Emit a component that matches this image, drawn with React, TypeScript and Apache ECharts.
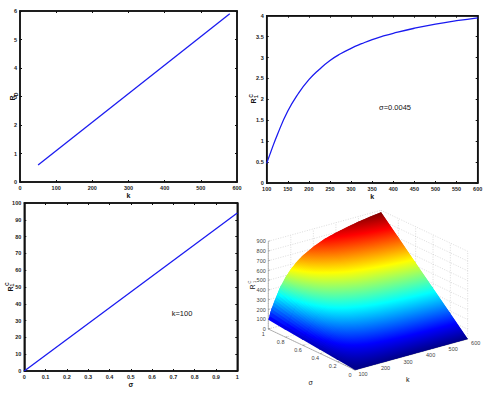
import React, { useEffect, useRef } from "react";
import * as echarts from "echarts";

// Panel 1
const p1K = [50, 580];
const p1R = [0.6, 5.9];
// Panel 2
const p2K = [100, 110, 125, 150, 175, 200, 225, 250, 275, 300, 325, 350, 375, 400, 450, 500, 550, 600];
const p2R = [0.47, 0.75, 1.15, 1.72, 2.14, 2.47, 2.72, 2.93, 3.09, 3.22, 3.33, 3.43, 3.51, 3.58, 3.7, 3.8, 3.88, 3.95];
// Panel 3
const p3S = [0, 1];
const p3R = [0, 94];
// Panel 4 surface
const surfK = [100, 110, 125, 150, 175, 200, 225, 250, 300, 350, 400, 450, 500, 550, 600];
const surfS = [0, 0.2, 0.4, 0.6, 0.8, 1];
const surfZ = [
  [0, 0, 0, 0, 0, 0, 0, 0, 0, 0, 0, 0, 0, 0, 0],
  [19, 33, 51, 77, 95, 110, 121, 130, 143, 153, 160, 165, 169, 173, 176],
  [38, 67, 102, 153, 191, 220, 242, 261, 287, 306, 319, 330, 339, 346, 352],
  [56, 100, 154, 230, 286, 330, 364, 391, 430, 460, 479, 494, 508, 519, 528],
  [75, 134, 205, 306, 382, 440, 485, 522, 574, 613, 638, 659, 678, 692, 704],
  [94, 167, 256, 383, 477, 550, 606, 652, 717, 766, 798, 824, 847, 865, 880],
];
const tickK = [100, 200, 300, 400, 500, 600];
const tickS = [0, 0.2, 0.4, 0.6, 0.8, 1];
const tickZ = [0, 100, 200, 300, 400, 500, 600, 700, 800, 900];

const FONT = "Liberation Sans";
const Z_TOP = 880;
const project = (k: number, s: number, z: number): [number, number] => {
  const t = (k - 100) / 500;
  return [355 + 112.7 * t - 86.7 * s, 370 - 31 * t - 41 * s - (z * 87.7) / 900];
};
const jetStops: [number, number[]][] = [
  [0, [0, 0, 135]],
  [0.125, [0, 0, 255]],
  [0.375, [0, 255, 255]],
  [0.625, [255, 255, 0]],
  [0.875, [255, 0, 0]],
  [1, [128, 0, 0]],
];
const jet = (z: number) => {
  const v = Math.max(0, Math.min(1, z / Z_TOP));
  for (let i = 1; i < jetStops.length; i++) {
    const [a, ca] = jetStops[i - 1];
    const [b, cb] = jetStops[i];
    if (v <= b) {
      const f = (v - a) / (b - a);
      return `rgb(${ca.map((c, n) => Math.round(c + (cb[n] - c) * f)).join(",")})`;
    }
  }
  return "rgb(128,0,0)";
};

const frameAxes = (gridIndex: number, kind: "x" | "y", min: number, max: number, interval: number, name = "") => [
  {
    type: "value", gridIndex, min, max, interval, position: kind === "x" ? "bottom" : "left",
    name, nameLocation: "middle", nameGap: 8,
    nameTextStyle: { fontSize: 7, fontWeight: "bold", color: "#111", fontFamily: FONT },
    splitLine: { show: false },
    axisLine: { onZero: false, lineStyle: { color: "#111", width: 1.5 } },
    axisTick: { inside: true, length: 2, lineStyle: { color: "#111", width: 1 } },
    axisLabel: { fontSize: 5.5, fontWeight: "bold", color: "#222", fontFamily: FONT, margin: 3 },
  },
  {
    type: "value", gridIndex, min, max, interval, position: kind === "x" ? "top" : "right",
    splitLine: { show: false },
    axisLine: { onZero: false, lineStyle: { color: "#111", width: 1.5 } },
    axisTick: { inside: true, length: 2, lineStyle: { color: "#111", width: 1 } },
    axisLabel: { show: false },
  },
];

const lineSeries = (xAxisIndex: number, yAxisIndex: number, xs: number[], ys: number[], smooth = false) => ({
  type: "line", xAxisIndex, yAxisIndex, showSymbol: false, symbol: "none", smooth,
  lineStyle: { color: "#1a1af0", width: 1.3 },
  data: xs.map((x, i) => [x, ys[i]]),
  silent: true,
});

const label = (text: string, x: number, y: number, size: number, rotate = false, weight = "normal") => ({
  type: "text", x, y, rotation: rotate ? Math.PI / 2 : 0,
  style: { text, fontSize: size, fontWeight: weight, fill: "#111", fontFamily: FONT, textAlign: "center", textVerticalAlign: "middle" },
});

const buildOption = () => {
  const wallSegs: number[][] = [];
  tickZ.forEach((z) => {
    wallSegs.push([100, 1, z, 600, 1, z]);
    wallSegs.push([600, 1, z, 600, 0, z]);
  });
  tickK.forEach((k) => {
    wallSegs.push([k, 1, 0, k, 1, 900]);
    wallSegs.push([k, 0, 0, k, 1, 0]);
  });
  tickS.forEach((s) => {
    wallSegs.push([600, s, 0, 600, s, 900]);
    wallSegs.push([100, s, 0, 600, s, 0]);
  });
  const axisSegs = [
    [100, 1, 0, 100, 1, 900],
    [100, 1, 0, 100, 0, 0],
    [100, 0, 0, 600, 0, 0],
    ...tickZ.map((z) => [100, 1, z, 108, 1, z]),
    ...tickS.map((s) => [100, s, 0, 108, s, 0]),
    ...tickK.map((k) => [k, 0, 0, k, 0.03, 0]),
  ];
  const cells: number[][] = [];
  for (let j = 0; j < surfS.length - 1; j++) for (let i = 0; i < surfK.length - 1; i++) cells.push([i, j]);

  const segRender = (color: string, dash: number[] | null, width: number) => (_: any, api: any) => {
    const a = api.coord(project(api.value(0), api.value(1), api.value(2)));
    const b = api.coord(project(api.value(3), api.value(4), api.value(5)));
    return {
      type: "line",
      shape: { x1: a[0], y1: a[1], x2: b[0], y2: b[1] },
      style: { stroke: color, lineWidth: width, lineDash: dash, fill: null },
    };
  };
  const cellRender = (_: any, api: any) => {
    const i = api.value(0), j = api.value(1);
    const kSpan = surfK[i + 1] - surfK[i];
    const NK = Math.max(1, Math.ceil(kSpan / 6));
    const children: any[] = [];
    const zAt = (u: number, v: number) => {
      const a = surfZ[j][i] + (surfZ[j][i + 1] - surfZ[j][i]) * u;
      const b = surfZ[j + 1][i] + (surfZ[j + 1][i + 1] - surfZ[j + 1][i]) * u;
      return a + (b - a) * v;
    };
    const pt = (u: number, v: number) =>
      api.coord(project(surfK[i] + kSpan * u, surfS[j] + (surfS[j + 1] - surfS[j]) * v, zAt(u, v)));
    const lastI = i === surfK.length - 2;
    const lastJ = j === surfS.length - 2;
    for (let a = 0; a < NK; a++) {
      const u0 = a / NK;
      let u1 = (a + 1) / NK;
      if (!(lastI && a === NK - 1)) u1 += 6 / kSpan; // overlap hides seams
      const v1 = lastJ ? 1 : 1.06;
      const um = (a + 0.5) / NK;
      const z0 = zAt(um, 0), z1 = zAt(um, 1);
      const p0 = pt(um, 0), p1 = pt(um, 1);
      const stops: { offset: number; color: string }[] = [{ offset: 0, color: jet(z0) }];
      jetStops.forEach(([f]) => {
        const z = f * Z_TOP;
        if (z > z0 && z < z1) stops.push({ offset: (z - z0) / (z1 - z0), color: jet(z) });
      });
      stops.push({ offset: 1, color: jet(z1) });
      children.push({
        type: "polygon",
        shape: { points: [pt(u0, 0), pt(u1, 0), pt(u1, v1), pt(u0, v1)] },
        style: { fill: new echarts.graphic.LinearGradient(p0[0], p0[1], p1[0], p1[1], stops, true), stroke: null },
      });
    }
    return { type: "group", children };
  };
  const textRender = (offX: number, offY: number, align: string, pick: (v: number) => [number, number, number]) => (_: any, api: any) => {
    const v = api.value(0);
    const [k, s, z] = pick(v);
    const p = api.coord(project(k, s, z));
    return {
      type: "text",
      x: p[0] + offX, y: p[1] + offY,
      style: { text: String(v), fontSize: 5.5, fill: "#444", fontFamily: FONT, textAlign: align, textVerticalAlign: "middle" },
    };
  };
  const customBase = { type: "custom", xAxisIndex: 6, yAxisIndex: 6, silent: true, clip: false };
  const border = { show: true, backgroundColor: "transparent", borderColor: "#111", borderWidth: 1.5 };

  return {
    animation: false,
    backgroundColor: "#fff",
    grid: [
      { left: 20, top: 11, width: 217, height: 171, ...border },
      { left: 266.7, top: 15.7, width: 211, height: 167.3, ...border },
      { left: 24.3, top: 203, width: 213, height: 168, ...border },
      { left: 0, top: 0, width: 490, height: 393 },
    ],
    xAxis: [
      ...frameAxes(0, "x", 0, 600, 100, "k"),
      ...frameAxes(1, "x", 100, 600, 50, "k"),
      ...frameAxes(2, "x", 0, 1, 0.1, "σ"),
      { type: "value", gridIndex: 3, min: 0, max: 490, show: false },
    ],
    yAxis: [
      ...frameAxes(0, "y", 0, 6, 1),
      ...frameAxes(1, "y", 0, 4, 0.5),
      ...frameAxes(2, "y", 0, 100, 10),
      { type: "value", gridIndex: 3, min: 0, max: 393, inverse: true, show: false },
    ],
    series: [
      lineSeries(0, 0, p1K, p1R),
      lineSeries(2, 2, p2K, p2R, true),
      lineSeries(4, 4, p3S, p3R),
      { ...customBase, data: wallSegs, renderItem: segRender("#c4c4c4", [1, 1.5], 0.6) },
      { ...customBase, data: axisSegs, renderItem: segRender("#888", null, 0.6) },
      { ...customBase, data: cells, renderItem: cellRender },
      { ...customBase, data: tickZ.map((v) => [v]), renderItem: textRender(-2.5, 0, "right", (v) => [100, 1, v]) },
      { ...customBase, data: tickS.map((v) => [v]), renderItem: textRender(-5, 4.5, "center", (v) => [100, v, 0]) },
      { ...customBase, data: tickK.map((v) => [v]), renderItem: textRender(8, 4, "center", (v) => [v, 0, 0]) },
    ],
    graphic: [
      label("R", 12, 98, 7, true, "bold"),
      label("D", 15.5, 94.5, 5, true, "bold"),
      label("R", 253.3, 101, 7, true, "bold"),
      label("C", 250.8, 96, 5, true, "bold"),
      label("1", 255.6, 96.5, 5, true, "bold"),
      label("R", 10, 289, 7, true, "bold"),
      label("C", 7.3, 284.3, 5, true, "bold"),
      label("1", 12, 285, 5, true, "bold"),
      label("σ=0.0045", 395, 107, 7.5),
      label("k=100", 182, 313, 7.5),
      label("R", 252, 287, 6.5, true),
      label("C", 249.5, 282, 4, true),
      label("1", 254, 282, 4, true),
      label("σ", 310.7, 382.7, 7),
      label("k", 407.7, 379, 7),
    ],
  };
};

export default function App() {
  const ref = useRef<HTMLDivElement>(null);
  useEffect(() => {
    if (!ref.current) return;
    const chart = echarts.init(ref.current, undefined, { renderer: "svg" });
    chart.setOption(buildOption() as any);
    return () => chart.dispose();
  }, []);
  return <div ref={ref} style={{ position: "fixed", left: 0, top: 0, width: 490, height: 393 }} />;
}
